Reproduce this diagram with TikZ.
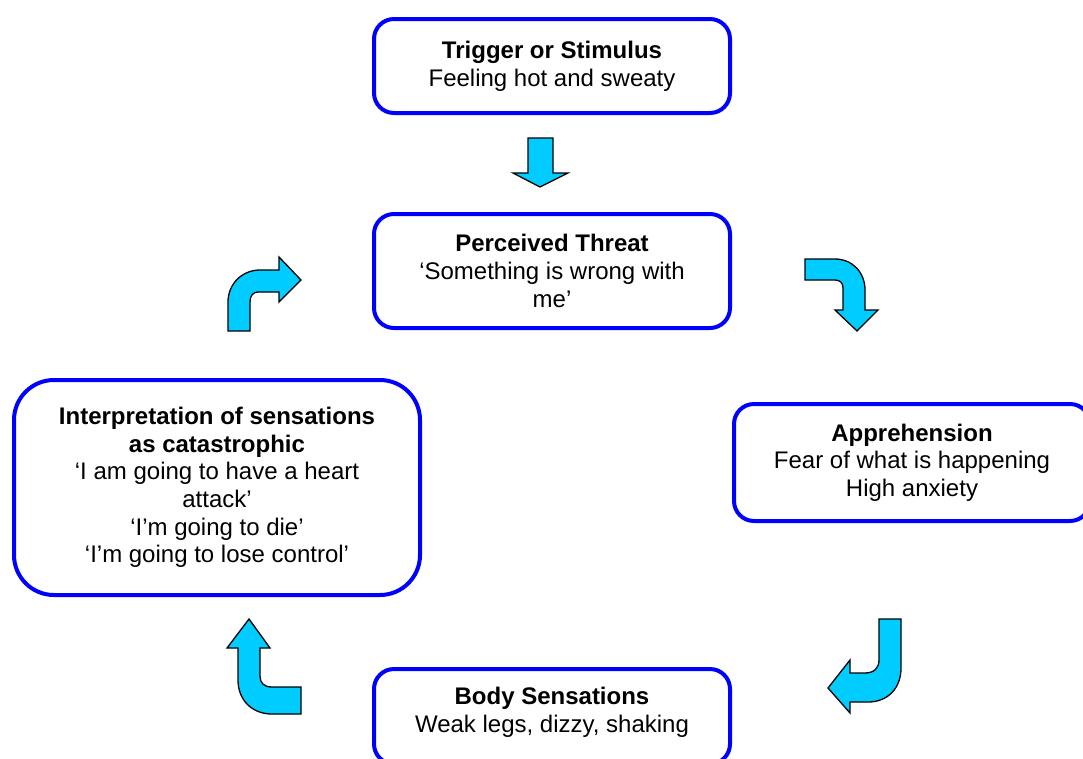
\documentclass[tikz,border=0pt]{standalone}
\usepackage{fontspec}
\setmainfont{Liberation Sans}
\definecolor{boxblue}{RGB}{0,0,255}
\definecolor{arrowcyan}{RGB}{0,204,255}
\tikzset{
  stagebox/.style={draw=boxblue, line width=4pt, rounded corners=20pt, align=center,
    font=\fontsize{24}{27.6}\selectfont, inner sep=0pt},
  blockarrow/.style={fill=arrowcyan, draw=black, line width=1.3pt, line join=miter}
}
\begin{document}
\begin{tikzpicture}[x=1pt,y=-1pt]
\useasboundingbox (0,0) rectangle (1083,758);
\clip (0,0) rectangle (1083,758);

% stages of the panic cycle
\node[stagebox, minimum width=356pt, minimum height=94pt] (trigger) at (552,66)
  {\textbf{Trigger or Stimulus}\\Feeling hot and sweaty};
\node[stagebox, minimum width=356pt, minimum height=114pt] (threat) at (552,271)
  {\textbf{Perceived Threat}\\‘Something is wrong with\\me’};
\node[stagebox, minimum width=356pt, minimum height=117pt] (appr) at (912,462.5)
  {\textbf{Apprehension}\\Fear of what is happening\\High anxiety};
% this box runs past the lower edge; the strut keeps its text a little higher
\node[stagebox, minimum width=356pt, minimum height=95pt] (body) at (552,716.5)
  {\textbf{Body Sensations}\\Weak legs, dizzy, shaking\rule[-14pt]{0pt}{1pt}};
\node[stagebox, rounded corners=40pt, minimum width=406pt, minimum height=215pt] (interp) at (217,487.5)
  {\textbf{Interpretation of sensations}\\\textbf{as catastrophic}\\‘I am going to have a heart\\attack’\\‘I’m going to die’\\‘I’m going to lose control’};

% trigger -> threat: straight down arrow
\draw[blockarrow] (528,138) -- (553,138) -- (553,173) -- (568,173) -- (540,187)
  -- (513,173) -- (528,173) -- cycle;

% threat -> apprehension: bent right-then-down arrow
\draw[blockarrow] (805,259) -- (835,259) .. controls (852,259) and (865,272) .. (865,290)
  -- (865,310) -- (878,310) -- (857,331) -- (835,310) -- (843,310) -- (843,288)
  .. controls (843,283) and (840,280) .. (835,280) -- (805,280) -- cycle;

% apprehension -> body sensations: down-then-left arrow
\draw[blockarrow] (879,619) -- (901,619) -- (901,668) .. controls (901,688) and (888,702) .. (868,702)
  -- (850,702) -- (850,713) -- (828,688) -- (850,660) -- (850,673) -- (865,673)
  .. controls (874,673) and (879,668) .. (879,660) -- cycle;

% body sensations -> interpretation: left-then-up arrow
\draw[blockarrow] (249,619) -- (270,648) -- (260,648) -- (260,676)
  .. controls (260,683) and (264,687) .. (272,687) -- (301,687) -- (301,714) -- (272,714)
  .. controls (252,714) and (238,700) .. (238,680) -- (238,648) -- (227,648) -- cycle;

% interpretation -> threat: up-then-right arrow
\draw[blockarrow] (228,331) -- (228,302) .. controls (228,284) and (242,270) .. (260,270)
  -- (279,270) -- (279,257) -- (301,280) -- (279,302) -- (279,292) -- (258,292)
  .. controls (253,292) and (250,296) .. (250,302) -- (250,331) -- cycle;
\end{tikzpicture}
\end{document}
